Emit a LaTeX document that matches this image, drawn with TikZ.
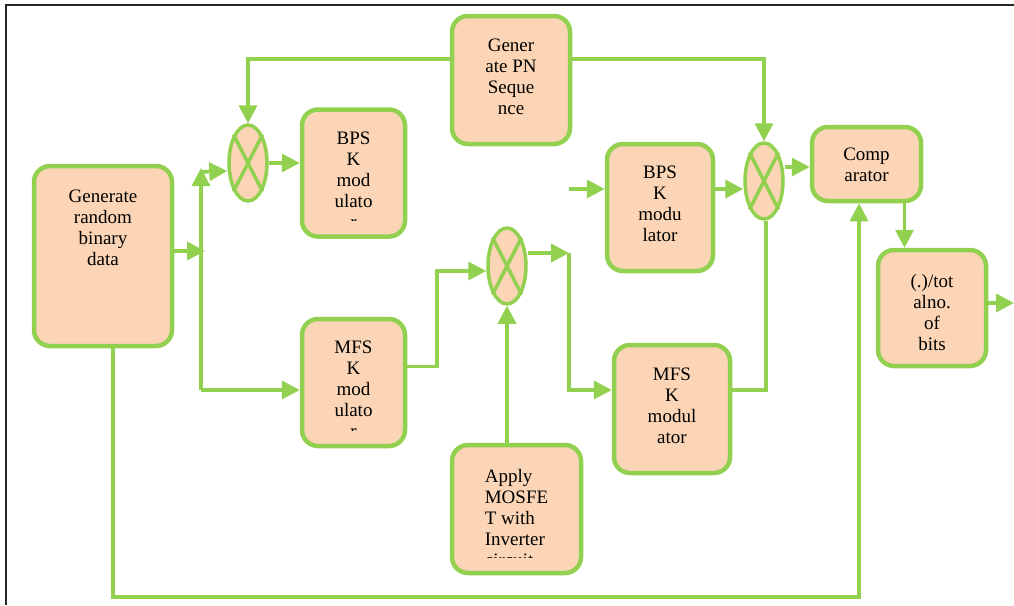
\documentclass[tikz,border=0pt]{standalone}
\usepackage{fontspec}
\setmainfont{Liberation Serif}
\usetikzlibrary{shapes.geometric,arrows.meta}
\definecolor{gr}{RGB}{146,208,80}
\definecolor{peach}{RGB}{251,213,181}
\begin{document}
\begin{tikzpicture}[x=1pt,y=-1pt,
  blk/.style={rectangle, draw=gr, fill=peach, line width=4.5pt, rounded corners=16pt, inner sep=0pt},
  mix/.style={ellipse, draw=gr, fill=peach, line width=3.5pt, minimum width=38pt, minimum height=76pt, inner sep=0pt},
  txt/.style={font=\fontsize{19}{21}\selectfont, align=center, inner sep=0pt, anchor=north},
  ln/.style={draw=gr, line width=3.5pt},
  arr/.style={ln, -{Triangle[length=18pt,width=18pt]}},
  xl/.style={draw=gr, line width=3.5pt}]
\useasboundingbox (0,0) rectangle (1014,605);
\fill[white] (0,0) rectangle (1014,605);
\draw[line width=1.5pt, black!85] (6,605) -- (6,5) -- (1014,5);

% blocks
\node[blk, minimum width=138pt, minimum height=180pt] (gen) at (103,256) {};
\node[blk, minimum width=103pt, minimum height=127pt] (bpska) at (353.5,173) {};
\node[blk, minimum width=118pt, minimum height=128pt] (pn) at (511,80) {};
\node[blk, minimum width=106pt, minimum height=127pt] (bpskb) at (660,207.5) {};
\node[blk, minimum width=109pt, minimum height=74pt] (cmp) at (866.5,164) {};
\node[blk, minimum width=108pt, minimum height=116pt] (tot) at (932,308) {};
\node[blk, minimum width=103pt, minimum height=127pt] (mfska) at (353.5,382.5) {};
\node[blk, minimum width=129pt, minimum height=128pt] (mos) at (516.5,509) {};
\node[blk, minimum width=116pt, minimum height=128pt] (mfskb) at (672,409) {};

% mixers
\node[mix] (ma) at (248,163) {};
\node[mix] (mb) at (764,181) {};
\node[mix] (mc) at (507,266) {};
\foreach \m in {ma,mb,mc}{
  \draw[xl] (\m.63) -- (\m.-117) (\m.117) -- (\m.-63);
}

% texts
\node[txt] (gent) at ([yshift=-26pt]gen.north) {Generate\\random\\binary\\data};
\begin{scope}
\clip (300,100) rectangle (410,220);
\node[txt] (bpskat) at ([yshift=-24pt]bpska.north) {BPS\\K\\mod\\ulato\\r};
\end{scope}
\node[txt] (pnt) at ([yshift=-25pt]pn.north) {Gener\\ate PN\\Seque\\nce};
\node[txt] (bpskbt) at ([yshift=-24pt]bpskb.north) {BPS\\K\\modu\\lator};
\node[txt] (cmpt) at ([yshift=-23pt]cmp.north) {Comp\\arator};
\node[txt] (tott) at ([yshift=-26pt]tot.north) {(.)/tot\\alno.\\of\\bits};
\begin{scope}
\clip (300,310) rectangle (410,430);
\node[txt] (mfskat) at ([yshift=-24pt]mfska.north) {MFS\\K\\mod\\ulato\\r};
\end{scope}
\begin{scope}
\clip (450,440) rectangle (585,557);
\node[txt, align=left] (most) at ([yshift=-26pt]mos.north) {Apply\\MOSFE\\T with\\Inverter\\circuit};
\end{scope}
\node[txt] (mfskbt) at ([yshift=-25pt]mfskb.north) {MFS\\K\\modul\\ator};

% junction coordinates
\coordinate (j1) at (205,251);
\coordinate (j2) at (201,390);
\coordinate (j3) at (201,168);
\coordinate (j4) at (201,172);
\coordinate (b1) at (437,271);
\coordinate (c1) at (569,253);
\coordinate (c2) at (569,390);
\coordinate (c3) at (569,189);
\coordinate (out) at (1014,303);
\coordinate (d1) at (113,597);
\coordinate (d2) at (859,597);

% connectors
\draw[arr] ([yshift=21pt]pn.west) -| (ma.north);
\draw[arr] ([yshift=21pt]pn.east) -| (mb.north);
\draw[arr] (ma.east) -- (ma.east -| bpska.west);
\draw[arr] (gen.east |- j1) -- (j1);
\draw[arr] (j2) -- (j3);
\draw[arr] (j4) -- ([yshift=-8pt]ma.west);
\draw[arr] (j2) -- (j2 -| mfska.west);
\draw[arr] ([yshift=16pt]mfska.east) -| (b1) -- (b1 -| mc.west);
\draw[arr] (mos.north -| mc.south) -- (mc.south);
\draw[arr] ([yshift=13pt]mc.east) -- (c1);
\draw[arr] (c1) -- (c2) -- (c2 -| mfskb.west);
\draw[arr] (c3) -- (c3 -| bpskb.west);
\draw[arr] (bpskb.east |- c3) -- ([yshift=-8pt]mb.west);
\draw[ln] (mfskb.east |- c2) -| ([xshift=2pt]mb.south);
\draw[arr] ([yshift=14pt]mb.east) -- ([yshift=14pt]mb.east -| cmp.west);
\draw[arr] ([xshift=38pt]cmp.south) -- ([xshift=38pt]cmp.south |- tot.north);
\draw[arr] (tot.east |- out) -- (out);
\draw[arr] (gen.south -| d1) -- (d1) -- (d2) -- (d2 |- cmp.south);
\end{tikzpicture}
\end{document}
